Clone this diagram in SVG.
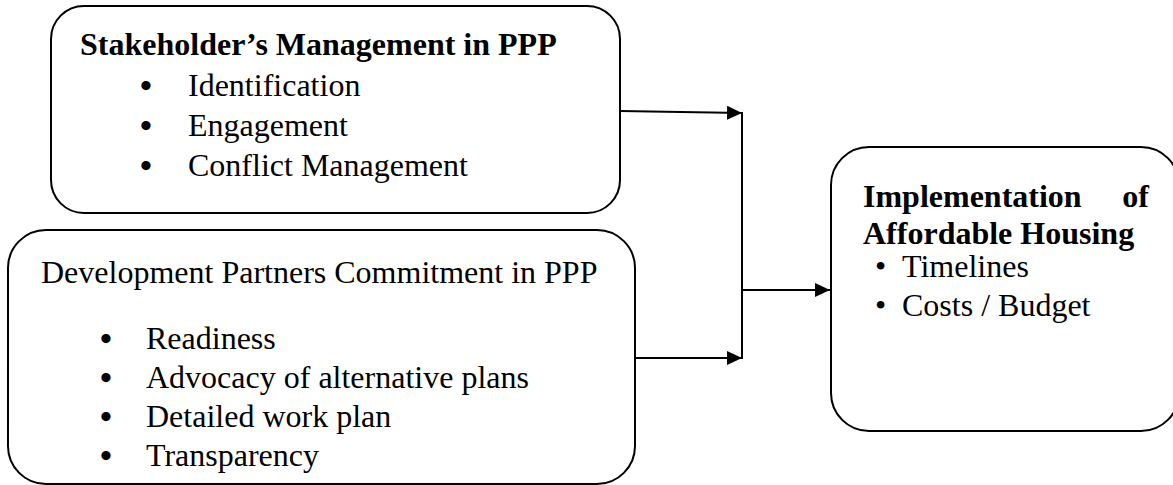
<svg xmlns="http://www.w3.org/2000/svg" width="1173" height="485" viewBox="0 0 1173 485">
  <defs>
    <marker id="arrow" markerUnits="userSpaceOnUse" markerWidth="16" markerHeight="14" refX="15" refY="7" orient="auto">
      <path d="M0,0 L15,7 L0,14 z" fill="#000"/>
    </marker>
  </defs>
  <style>
    .box { fill: #fff; stroke: #000; stroke-width: 2; }
    .t { font-family: "Liberation Serif", "Times New Roman", serif; font-size: 32px; fill: #000; }
    .b { font-weight: bold; }
    .bul { font-family: "Liberation Serif", "Times New Roman", serif; font-size: 34px; font-weight: bold; fill: #000; }
    .conn { stroke: #000; stroke-width: 2; fill: none; }
  </style>
  <rect width="1173" height="485" fill="#fff"/>

  <g id="stakeholder">
    <rect class="box" x="51" y="6" width="569" height="207" rx="33" ry="33"/>
    <text class="t b" x="80" y="55">Stakeholder’s Management in PPP</text>
    <text class="bul" x="140" y="97">•</text>
    <text class="t" x="188" y="96">Identification</text>
    <text class="bul" x="140" y="137">•</text>
    <text class="t" x="188" y="136">Engagement</text>
    <text class="bul" x="140" y="177">•</text>
    <text class="t" x="188" y="176">Conflict Management</text>
  </g>

  <g id="partners">
    <rect class="box" x="8" y="230" width="627" height="254" rx="38" ry="38"/>
    <text class="t" x="41" y="283">Development Partners Commitment in PPP</text>
    <text class="bul" x="100" y="350">•</text>
    <text class="t" x="146" y="349">Readiness</text>
    <text class="bul" x="100" y="389">•</text>
    <text class="t" x="146" y="388">Advocacy of alternative plans</text>
    <text class="bul" x="100" y="428">•</text>
    <text class="t" x="146" y="427">Detailed work plan</text>
    <text class="bul" x="100" y="467">•</text>
    <text class="t" x="146" y="466">Transparency</text>
  </g>

  <g id="implementation">
    <rect class="box" x="831" y="147" width="348" height="284" rx="38" ry="38"/>
    <text class="t b" x="863" y="207">Implementation</text>
    <text class="t b" x="1149" y="207" text-anchor="end">of</text>
    <text class="t b" x="863" y="244">Affordable Housing</text>
    <text class="t" x="875" y="277">•</text>
    <text class="t" x="902" y="277">Timelines</text>
    <text class="t" x="875" y="316">•</text>
    <text class="t" x="902" y="316">Costs / Budget</text>
  </g>

  <g id="connectors">
    <line class="conn" x1="620" y1="111" x2="742" y2="113" marker-end="url(#arrow)"/>
    <line class="conn" x1="635" y1="358" x2="742" y2="358" marker-end="url(#arrow)"/>
    <line class="conn" x1="742" y1="112" x2="742" y2="359"/>
    <line class="conn" x1="742" y1="290" x2="830" y2="290" marker-end="url(#arrow)"/>
  </g>
</svg>
